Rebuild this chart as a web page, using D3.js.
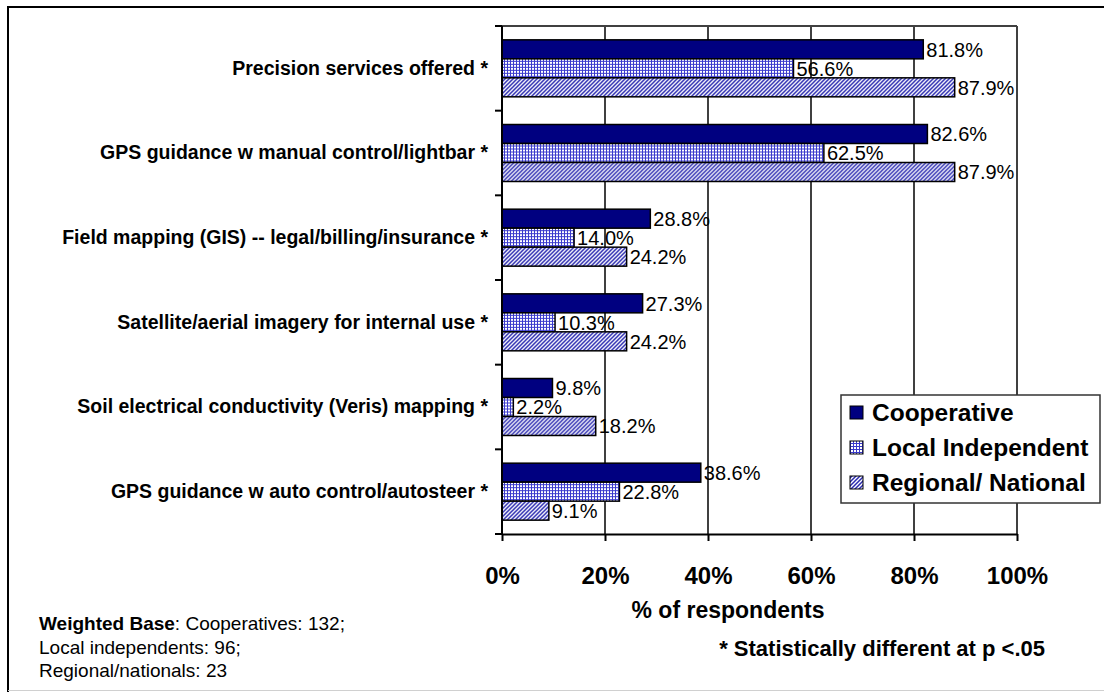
<!DOCTYPE html>
<html>
<head>
<meta charset="utf-8">
<script src="https://cdn.jsdelivr.net/npm/d3@7"></script>
<style>
  html, body { margin: 0; padding: 0; background: #fff; }
  svg { display: block; font-family: Arial, "Liberation Sans", sans-serif; }
</style>
</head>
<body>
<svg id="chart" width="1104" height="692"></svg>
<script>
// Services offered, by type of dealer (share of respondents)
const categories = [
  "Precision services offered *",
  "GPS guidance w manual control/lightbar *",
  "Field mapping (GIS) -- legal/billing/insurance *",
  "Satellite/aerial imagery for internal use *",
  "Soil electrical conductivity (Veris) mapping *",
  "GPS guidance w auto control/autosteer *"
];
const seriesNames = ["Cooperative", "Local Independent", "Regional/ National"];
const cooperative = [81.8, 82.6, 28.8, 27.3, 9.8, 38.6];
const localIndependent = [56.6, 62.5, 14.0, 10.3, 2.2, 22.8];
const regionalNational = [87.9, 87.9, 24.2, 24.2, 18.2, 9.1];
const xTicks = [0, 20, 40, 60, 80, 100];
const baseNotes = ["Cooperatives: 132;", "Local independents: 96;", "Regional/nationals: 23"];

const seriesValues = [cooperative, localIndependent, regionalNational];
const fills = ["#000080", "url(#gridFill)", "url(#hatchFill)"];
const FONT = "Arial, 'Liberation Sans', sans-serif";

const svg = d3.select("#chart");

// fill patterns for the two hatched series
const defs = svg.append("defs");
const grid = defs.append("pattern").attr("id", "gridFill")
  .attr("patternUnits", "userSpaceOnUse").attr("width", 3).attr("height", 3);
grid.append("rect").attr("width", 3).attr("height", 3).attr("fill", "#fff");
grid.append("path").attr("d", "M0,0.5H3M0.5,0V3")
  .attr("stroke", "#3a3acc").attr("stroke-width", 1);

const hatch = defs.append("pattern").attr("id", "hatchFill")
  .attr("patternUnits", "userSpaceOnUse").attr("width", 4).attr("height", 4);
hatch.append("rect").attr("width", 4).attr("height", 4).attr("fill", "#fff");
hatch.append("path").attr("d", "M-1,1L1,-1M0,4L4,0M3,5L5,3")
  .attr("stroke", "#2a2ab0").attr("stroke-width", 1.5);

// outer frame
svg.append("path").attr("d", "M8,692V7H1104")
  .attr("fill", "none").attr("stroke", "#000").attr("stroke-width", 2);
svg.append("line").attr("x1", 8).attr("x2", 1104).attr("y1", 690.5).attr("y2", 690.5)
  .attr("stroke", "#d0d0d0").attr("stroke-width", 1);

const plot = { left: 502, right: 1017, top: 26, bottom: 534 };

const x = d3.scaleLinear().domain([0, 100]).range([plot.left, plot.right]);
const y0 = d3.scaleBand().domain(categories).range([plot.top, plot.bottom])
  .paddingInner(0.327).paddingOuter(0.1635);
const y1 = d3.scaleBand().domain(seriesNames).range([0, y0.bandwidth()]);

// vertical gridlines
svg.append("g").selectAll("line").data(xTicks.filter(t => t > 0)).join("line")
  .attr("x1", d => x(d)).attr("x2", d => x(d))
  .attr("y1", plot.top).attr("y2", plot.bottom)
  .attr("stroke", "#404040").attr("stroke-width", 2);
// plot-area top border
svg.append("line").attr("x1", plot.left).attr("x2", plot.right)
  .attr("y1", plot.top).attr("y2", plot.top)
  .attr("stroke", "#404040").attr("stroke-width", 2);

// bars
const groups = svg.append("g").selectAll("g").data(categories).join("g")
  .attr("transform", d => `translate(0,${y0(d)})`);
groups.each(function (cat, ci) {
  const g = d3.select(this);
  seriesNames.forEach((s, si) => {
    const v = seriesValues[si][ci];
    g.append("rect")
      .attr("x", x(0)).attr("y", y1(s))
      .attr("width", x(v) - x(0)).attr("height", y1.bandwidth())
      .attr("fill", fills[si]).attr("stroke", "#000").attr("stroke-width", 1.5);
  });
});
// value labels
groups.each(function (cat, ci) {
  const g = d3.select(this);
  seriesNames.forEach((s, si) => {
    const v = seriesValues[si][ci];
    g.append("text")
      .attr("x", x(v) + 3).attr("y", y1(s) + y1.bandwidth() / 2)
      .attr("dy", "0.36em")
      .attr("font-size", 20).attr("fill", "#000")
      .text(v.toFixed(1) + "%");
  });
});

// category axis
const yAxis = d3.axisLeft(y0).tickSize(0).tickPadding(14);
const yg = svg.append("g").attr("transform", `translate(${plot.left},0)`).call(yAxis);
yg.select(".domain").remove();
yg.selectAll("text").attr("font-size", 19.5).attr("font-weight", "bold")
  .attr("font-family", FONT).attr("fill", "#000");
// category separator ticks
const step = y0.step();
svg.append("g").selectAll("line").data(d3.range(categories.length + 1)).join("line")
  .attr("x1", plot.left - 7).attr("x2", plot.left)
  .attr("y1", i => plot.top + i * step).attr("y2", i => plot.top + i * step)
  .attr("stroke", "#000").attr("stroke-width", 2);
svg.append("line").attr("x1", plot.left).attr("x2", plot.left)
  .attr("y1", plot.top).attr("y2", plot.bottom)
  .attr("stroke", "#000").attr("stroke-width", 2);

// value axis
const xAxis = d3.axisBottom(x).tickValues(xTicks).tickFormat(d => d + "%")
  .tickSize(7).tickSizeOuter(0).tickPadding(26);
const xg = svg.append("g").attr("transform", `translate(0,${plot.bottom})`).call(xAxis);
xg.select(".domain").attr("stroke-width", 2);
xg.selectAll(".tick line").attr("stroke-width", 2);
xg.selectAll("text").attr("font-size", 24).attr("font-weight", "bold")
  .attr("font-family", FONT).attr("fill", "#000");

svg.append("text").attr("x", 728).attr("y", 618).attr("text-anchor", "middle")
  .attr("font-size", 23).attr("font-weight", "bold").text("% of respondents");
svg.append("text").attr("x", 1045).attr("y", 656).attr("text-anchor", "end")
  .attr("font-size", 22).attr("font-weight", "bold").text("* Statistically different at p <.05");

// weighted base note
const note = svg.append("text").attr("x", 39).attr("y", 630).attr("font-size", 19);
note.append("tspan").attr("font-weight", "bold").text("Weighted Base");
note.append("tspan").text(": " + baseNotes[0]);
baseNotes.slice(1).forEach((t, i) => {
  svg.append("text").attr("x", 39).attr("y", 654 + i * 23).attr("font-size", 19).text(t);
});

// legend
const legend = svg.append("g").attr("transform", "translate(841,395)");
legend.append("rect").attr("width", 259).attr("height", 108)
  .attr("fill", "#fff").attr("stroke", "#333").attr("stroke-width", 1.5);
seriesNames.forEach((s, i) => {
  const ly = 17 + i * 35;
  legend.append("rect").attr("x", 9).attr("y", ly - 6).attr("width", 13).attr("height", 13)
    .attr("fill", fills[i]).attr("stroke", "#000").attr("stroke-width", 1);
  legend.append("text").attr("x", 31).attr("y", ly).attr("dy", "0.36em")
    .attr("font-size", 24.5).attr("font-weight", "bold").text(s);
});
</script>
</body>
</html>
